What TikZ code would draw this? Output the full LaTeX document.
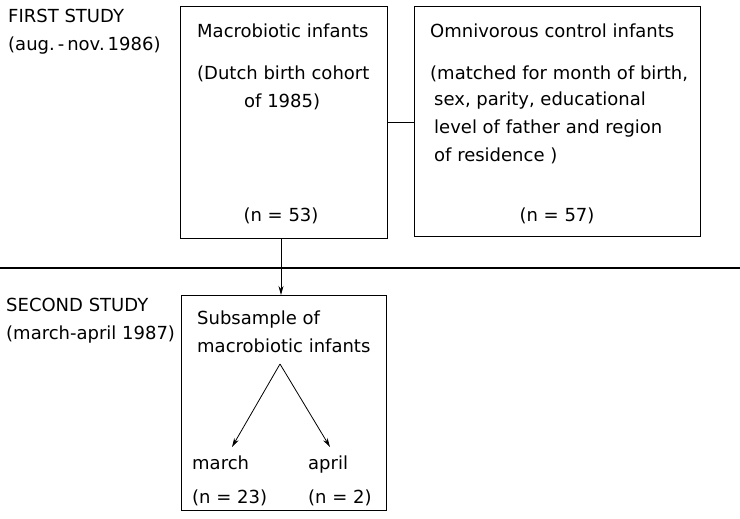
\documentclass[tikz,border=0pt]{standalone}
\usepackage{fontspec}
\setmainfont{DejaVu Sans}
\usetikzlibrary{arrows.meta}
\begin{document}
\begin{tikzpicture}[x=1pt,y=-1pt,
  box/.style={draw,line width=1.3pt},
  txt/.style={anchor=base west,inner sep=0pt,font=\fontsize{18}{20}\selectfont},
  ctxt/.style={anchor=base,inner sep=0pt,font=\fontsize{18}{20}\selectfont},
  conn/.style={line width=0.8pt},
  arr/.style={line width=0.8pt,-{Stealth[length=9pt,width=5pt]}}]
\useasboundingbox (0,0) rectangle (740,519);
% boxes
\node[box,minimum width=207pt,minimum height=232pt,anchor=north west,inner sep=0pt] (b1) at (180,6) {};
\node[box,minimum width=286pt,minimum height=230pt,anchor=north west,inner sep=0pt] (b2) at (414,6) {};
\node[box,minimum width=205pt,minimum height=215pt,anchor=north west,inner sep=0pt] (b3) at (181,295) {};
% left labels
\node[txt] (fs) at (8,23) {FIRST STUDY};
\node[txt] (fsd) at (8,51) {(aug.\,-\,nov.\,1986)};
\node[txt] (ss) at (6,311) {SECOND STUDY};
\node[txt] (ssd) at (6,339) {(march-april 1987)};
% box 1 text
\node[txt] (m1) at (197,38) {Macrobiotic infants};
\node[txt] (m2) at (197,80) {(Dutch birth cohort};
\node[txt] (m3) at (244,108) {of 1985)};
\node[ctxt] (m4) at (281,221) {(n = 53)};
% box 2 text
\node[txt] (o1) at (430,38) {Omnivorous control infants};
\node[txt] (o2) at (430,80) {(matched for month of birth,};
\node[txt] (o3) at (434,106) {sex, parity, educational};
\node[txt] (o4) at (434,133) {level of father and region};
\node[txt] (o5) at (434,161) {of residence )};
\node[ctxt] (o6) at (557,221) {(n = 57)};
% box 3 text
\node[txt] (s1) at (197,324) {Subsample of};
\node[txt] (s2) at (197,352) {macrobiotic infants};
\coordinate (apex) at (280,364);
\node[txt] (mar) at (192,469) {march};
\node[txt] (apr) at (308,469) {april};
\node[txt] (n23) at (192,503) {(n = 23)};
\node[txt] (n2) at (308,503) {(n = 2)};
\coordinate (ma) at (232,447);
\coordinate (aa) at (330,447);
% separator
\coordinate (l0) at (0,268);
\coordinate (l1) at (740,268);
\draw[line width=1.5pt] (l0) -- (l1);
% connectors
\coordinate (cy) at (0,122);
\coordinate (ax) at (281,0);
\draw[conn] (b1.east |- cy) -- (b2.west |- cy);
\draw[arr] (b1.south -| ax) -- (b3.north -| ax);
\draw[arr] (apex) -- (ma);
\draw[arr] (apex) -- (aa);
\end{tikzpicture}
\end{document}
